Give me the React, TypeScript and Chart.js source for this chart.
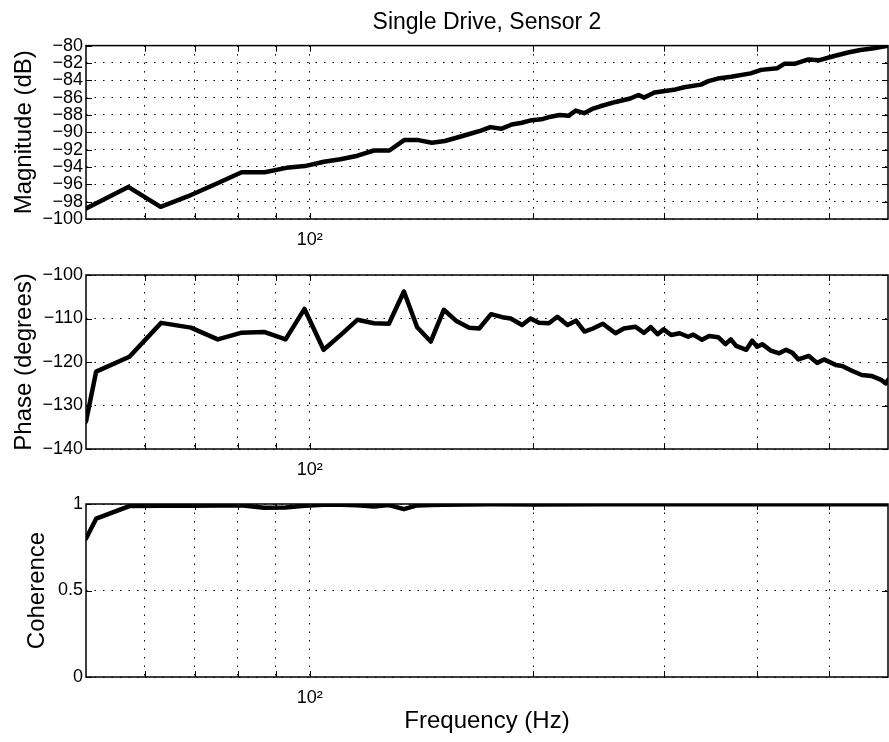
import React, { useEffect, useRef } from 'react';
import { Chart, registerables } from 'chart.js';

Chart.register(...registerables);

const FONT = "'Liberation Sans', Arial, Helvetica, sans-serif";
Chart.defaults.font.family = FONT;
Chart.defaults.color = '#000';

// ---- data ----
const chartTitle = 'Single Drive, Sensor 2';
const xAxisTitle = 'Frequency (Hz)';
const xMin = 50;
const xMax = 600;
const xGridTicks = [60, 70, 80, 90, 100, 200, 300, 400, 500];
const xLabelledTick = 100;

const magTitle = 'Magnitude (dB)';
const magFreq = [50, 57, 63, 68.5, 75, 81, 87, 93, 98.5, 104.5, 110, 116, 122, 128, 134, 140, 146, 152, 158, 164, 170, 175, 181, 187, 193, 199, 205, 211, 217, 223, 228, 234, 240, 246, 258, 270, 277, 282, 291, 309, 319, 336, 344, 354, 369, 392, 405, 426, 435, 449, 469, 484, 508, 530, 551, 574, 600];
const magDb = [-98.8, -96.3, -98.6, -97.4, -95.9, -94.6, -94.6, -94.1, -93.9, -93.4, -93.1, -92.7, -92.1, -92.1, -90.9, -90.9, -91.2, -91.0, -90.6, -90.2, -89.8, -89.4, -89.6, -89.1, -88.9, -88.6, -88.5, -88.2, -88.0, -88.1, -87.5, -87.8, -87.3, -87.0, -86.5, -86.1, -85.7, -86.0, -85.4, -85.1, -84.8, -84.5, -84.1, -83.8, -83.6, -83.2, -82.8, -82.6, -82.1, -82.1, -81.6, -81.7, -81.2, -80.8, -80.5, -80.3, -80.0];
const magMin = -100;
const magMax = -80;
const magStep = 2;

const phaseTitle = 'Phase (degrees)';
const phaseFreq = [50, 51.6, 57.2, 63.1, 69.2, 75.2, 80.8, 86.8, 92.8, 98.4, 104.4, 110.2, 115.9, 122.0, 127.8, 133.9, 139.5, 145.5, 151.5, 157.3, 163.9, 169.1, 175.4, 181.6, 186.4, 193.1, 198.2, 203.4, 209.8, 215.4, 222.3, 228.2, 234.3, 240.5, 248.0, 257.9, 264.6, 274.4, 281.7, 287.6, 293.8, 299.4, 306.4, 314.6, 323.0, 328.2, 337.2, 344.8, 354.5, 362.7, 368.7, 374.8, 386.8, 393.9, 400.0, 406.4, 417.5, 428.2, 437.5, 446.2, 454.6, 469.5, 481.7, 492.1, 510.4, 520.6, 536.4, 553.2, 570.1, 587.3, 596.0, 600];
const phaseDeg = [-133.7, -122.2, -118.8, -111.0, -112.1, -114.8, -113.3, -113.1, -114.8, -107.8, -117.2, -113.7, -110.3, -111.1, -111.2, -103.8, -112.0, -115.3, -108.0, -110.5, -112.1, -112.3, -109.0, -109.7, -110.0, -111.5, -110.0, -111.0, -111.1, -109.6, -111.5, -110.5, -113.0, -112.3, -111.2, -113.4, -112.3, -111.9, -113.3, -112.0, -113.6, -112.5, -113.8, -113.4, -114.2, -113.7, -114.9, -114.0, -114.3, -115.9, -114.8, -116.3, -117.2, -115.1, -116.5, -115.9, -117.4, -118.0, -117.2, -117.9, -119.4, -118.6, -120.2, -119.4, -120.7, -120.9, -122.0, -123.0, -123.2, -124.1, -124.9, -124.1];
const phaseMin = -140;
const phaseMax = -100;
const phaseStep = 10;

const cohTitle = 'Coherence';
const cohFreq = [50, 51.6, 57.2, 63.1, 69.2, 75.2, 80.8, 86.8, 92.8, 98.4, 104.4, 110.2, 115.9, 122.0, 127.8, 133.9, 139.5, 145.5, 151.5, 175.4, 200, 250, 300, 400, 500, 600];
const cohValue = [0.80, 0.915, 0.988, 0.99, 0.99, 0.992, 0.993, 0.978, 0.98, 0.99, 0.995, 0.996, 0.993, 0.985, 0.994, 0.97, 0.992, 0.994, 0.996, 0.998, 0.997, 0.999, 0.999, 0.999, 0.999, 0.999];
const cohMin = 0;
const cohMax = 1;
const cohStep = 0.5;

// ---- frame + inward tick marks (MATLAB style box) ----
const framePlugin = {
  id: 'matlabFrame',
  afterDraw(chart: any) {
    const { ctx, chartArea: a, scales } = chart;
    ctx.save();
    ctx.strokeStyle = '#000';
    ctx.lineWidth = 1.5;
    ctx.strokeRect(a.left, a.top, a.right - a.left, a.bottom - a.top);
    const len = 6;
    ctx.lineWidth = 1;
    ctx.beginPath();
    scales.y.ticks.forEach((t: any) => {
      const p = Math.round(scales.y.getPixelForValue(t.value)) + 0.5;
      ctx.moveTo(a.left, p);
      ctx.lineTo(a.left + len, p);
      ctx.moveTo(a.right, p);
      ctx.lineTo(a.right - len, p);
    });
    scales.x.ticks.forEach((t: any) => {
      const p = Math.round(scales.x.getPixelForValue(t.value)) + 0.5;
      ctx.moveTo(p, a.bottom);
      ctx.lineTo(p, a.bottom - len);
      ctx.moveTo(p, a.top);
      ctx.lineTo(p, a.top + len);
    });
    ctx.stroke();
    ctx.restore();
  },
};

const fmt = (v: number) => String(v).replace('-', '\u2212');

type PanelProps = {
  top: number;
  height: number;
  padTop: number;
  xAxisHeight: number;
  freq: number[];
  values: number[];
  yMin: number;
  yMax: number;
  yStep: number;
  yTitle: string;
  yTitlePad: number;
  title?: string;
  xTitle?: string;
};

function Panel(p: PanelProps) {
  const ref = useRef<HTMLCanvasElement>(null);
  useEffect(() => {
    if (!ref.current) return;
    const gridCommon = { color: '#000', lineWidth: 1, drawTicks: false };
    const borderCommon = { display: false, dash: [1.5, 7] };
    const chart = new Chart(ref.current, {
      type: 'line',
      data: {
        datasets: [
          {
            data: p.freq.map((f, i) => ({ x: f, y: p.values[i] })),
            borderColor: '#000',
            backgroundColor: '#000',
            borderWidth: 4.5,
            pointRadius: 0,
            tension: 0,
            fill: false,
            borderJoinStyle: 'round',
            borderCapStyle: 'round',
          },
        ],
      },
      options: {
        animation: false,
        responsive: false,
        events: [],
        layout: { padding: { top: p.padTop, right: 1, left: 0, bottom: 0 } },
        plugins: {
          legend: { display: false },
          tooltip: { enabled: false },
          title: p.title
            ? {
                display: true,
                text: p.title,
                fullSize: false,
                color: '#000',
                font: { size: 23, weight: 'normal', family: FONT },
                padding: { top: 9, bottom: 9 },
              }
            : { display: false },
        },
        scales: {
          x: {
            type: 'logarithmic',
            min: xMin,
            max: xMax,
            afterBuildTicks: (s: any) => {
              s.ticks = xGridTicks.map((v) => ({ value: v }));
            },
            afterFit: (s: any) => {
              s.height = p.xAxisHeight;
            },
            ticks: {
              autoSkip: false,
              maxRotation: 0,
              minRotation: 0,
              padding: 10,
              color: '#000',
              font: { size: 18 },
              callback: (v: any) => (v === xLabelledTick ? '10\u00b2' : ''),
            },
            grid: gridCommon,
            border: borderCommon,
            title: p.xTitle
              ? { display: true, text: p.xTitle, color: '#000', font: { size: 24 }, padding: { top: 0, bottom: 6 } }
              : { display: false },
          },
          y: {
            type: 'linear',
            min: p.yMin,
            max: p.yMax,
            afterFit: (s: any) => {
              s.width = 86;
            },
            ticks: {
              stepSize: p.yStep,
              autoSkip: false,
              padding: 3,
              color: '#000',
              font: { size: 18 },
              callback: (v: any) => fmt(v),
            },
            grid: gridCommon,
            border: borderCommon,
            title: {
              display: true,
              text: p.yTitle,
              color: '#000',
              font: { size: 24 },
              padding: { top: p.yTitlePad, bottom: 0 },
            },
          },
        },
      } as any,
      plugins: [framePlugin],
    });
    return () => chart.destroy();
  }, []);
  return (
    <canvas
      ref={ref}
      width={889}
      height={p.height}
      style={{ position: 'absolute', left: 0, top: p.top, display: 'block' }}
    />
  );
}

export default function App() {
  return (
    <div style={{ position: 'absolute', left: 0, top: 0, width: 889, height: 742, background: '#fff', overflow: 'hidden' }}>
      <Panel top={0} height={250} padTop={0} xAxisHeight={31} freq={magFreq} values={magDb} yMin={magMin} yMax={magMax} yStep={magStep} yTitle={magTitle} yTitlePad={10} title={chartTitle} />
      <Panel top={250} height={225} padTop={25} xAxisHeight={26} freq={phaseFreq} values={phaseDeg} yMin={phaseMin} yMax={phaseMax} yStep={phaseStep} yTitle={phaseTitle} yTitlePad={10} />
      <Panel top={480} height={262} padTop={24} xAxisHeight={65} freq={cohFreq} values={cohValue} yMin={cohMin} yMax={cohMax} yStep={cohStep} yTitle={cohTitle} yTitlePad={23} xTitle={xAxisTitle} />
    </div>
  );
}
